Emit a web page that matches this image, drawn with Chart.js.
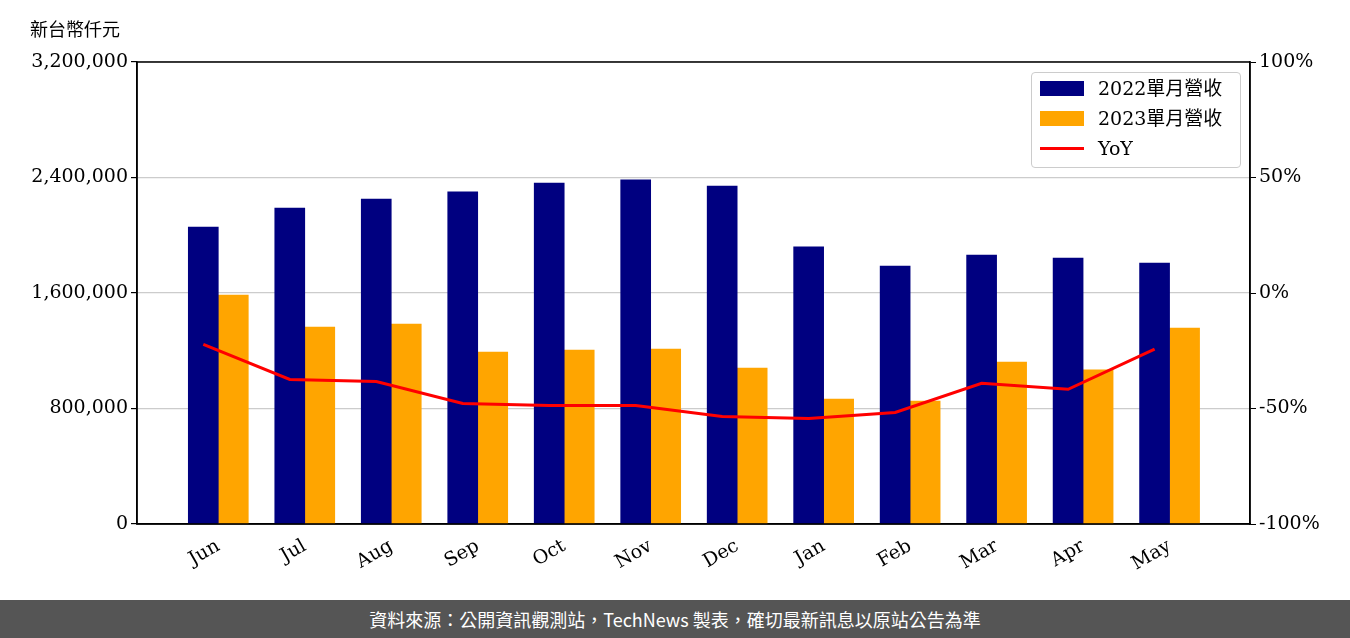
<!DOCTYPE html>
<html><head><meta charset="utf-8">
<script src="https://cdn.jsdelivr.net/npm/chart.js@4"></script>
<style>
body{margin:0;background:#fff;font-family:"DejaVu Serif","Noto Sans CJK TC",serif}
#wrap{position:relative;width:1350px;height:600px}
#title{position:absolute;left:30px;top:15px;font-size:18px;font-family:"Noto Sans CJK TC"}
#legend{position:absolute;left:1031px;top:72px;width:208px;height:94px;border:1px solid #ccc;border-radius:4px;background:rgba(255,255,255,0.8);font-size:19px}
#legend div{height:30px;line-height:30px;position:relative;padding-left:66px}
#legend span{position:absolute;left:8px;top:8px;width:44px;height:15px}
#foot{height:38px;background:#555;color:#fff;text-align:center;line-height:38px;font-size:18px;font-family:"Noto Sans CJK TC"}
</style></head><body>
<div id="wrap"><canvas id="c" width="1350" height="600"></canvas>
<div id="title">新台幣仟元</div>
<div id="legend">
<div><span style="background:#000080"></span>2022單月營收</div>
<div><span style="background:#FFA500"></span>2023單月營收</div>
<div><span style="background:red;height:3px;top:14px"></span>YoY</div>
</div></div>
<div id="foot">資料來源：公開資訊觀測站，TechNews 製表，確切最新訊息以原站公告為準</div>
<script>
const months = ['Jun','Jul','Aug','Sep','Oct','Nov','Dec','Jan','Feb','Mar','Apr','May'];
const rev2022 = [2057000,2189000,2251000,2300000,2362000,2383000,2341000,1919000,1787000,1863000,1842000,1808000];
const rev2023 = [1586000,1364000,1385000,1191000,1205000,1212000,1080000,866000,852000,1122000,1067000,1357000];
const yoy = [-22.2,-37.4,-38.3,-47.8,-48.7,-48.7,-53.5,-54.3,-51.7,-39.1,-41.7,-24.3];
const leftTicks = [0,800000,1600000,2400000,3200000];
const rightTicks = [-100,-50,0,50,100];

const pts = (arr, shift=0) => arr.map((v,i)=>({x:i+shift,y:v}));
const font = {family:'"DejaVu Serif","Noto Sans CJK TC",serif',size:19};

const frame = {id:'frame',afterDraw(c){const a=c.chartArea,x=c.ctx;x.save();x.strokeStyle='#000';x.lineWidth=1.5;
  x.strokeRect(a.left,a.top,a.right-a.left,a.bottom-a.top);x.restore();}};

new Chart(document.getElementById('c'), {
  type:'bar',
  data:{datasets:[
    {label:'2022單月營收',data:pts(rev2022),backgroundColor:'#000080',barThickness:30,yAxisID:'y',order:2},
    {label:'2023單月營收',data:pts(rev2023),backgroundColor:'#FFA500',barThickness:30,yAxisID:'y',order:2},
    // line sits over the 2022 bar centres, as in the original
    {type:'line',label:'YoY',data:pts(yoy,-0.173),borderColor:'red',borderWidth:3,pointRadius:0,yAxisID:'y1',order:1}
  ]},
  plugins:[frame],
  options:{
    responsive:false,animation:false,
    layout:{padding:{top:62,left:0,right:0,bottom:0}},
    plugins:{legend:{display:false},tooltip:{enabled:false}},
    scales:{
      x:{type:'linear',min:-0.94,max:11.93,offset:false,
        afterBuildTicks:s=>{s.ticks=months.map((m,i)=>({value:i}));},
        afterFit:s=>{s.height=76;},
        grid:{display:false,drawTicks:true},
        border:{color:'#000',width:1.5},
        ticks:{color:'#000',font,maxRotation:30,minRotation:30,callback:v=>months[v]}},
      y:{position:'left',min:0,max:3200000,
        afterBuildTicks:s=>{s.ticks=leftTicks.map(v=>({value:v}));},
        afterFit:s=>{s.width=137;},
        border:{color:'#000',width:1.5},
        grid:{color:'#ccc',lineWidth:1.2,tickColor:'#000',tickLength:6},
        ticks:{color:'#000',font,callback:v=>v.toLocaleString('en-US')}},
      y1:{position:'right',min:-100,max:100,
        afterBuildTicks:s=>{s.ticks=rightTicks.map(v=>({value:v}));},
        afterFit:s=>{s.width=100;},
        border:{color:'#000',width:1.5},
        grid:{drawOnChartArea:false,tickColor:'#000',tickLength:6},
        ticks:{color:'#000',font,callback:v=>v+'%'}}
    }
  }
});
</script>
</body></html>
